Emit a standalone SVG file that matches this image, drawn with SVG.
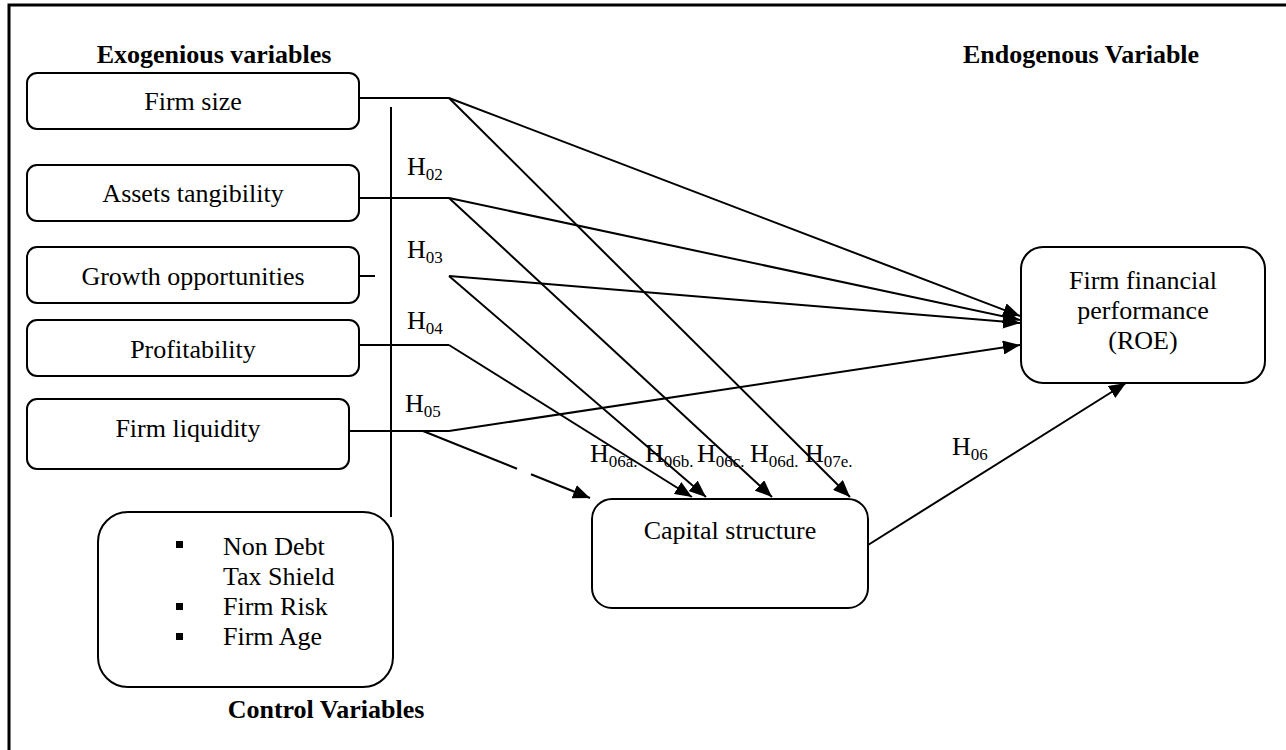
<svg xmlns="http://www.w3.org/2000/svg" width="1286" height="750" viewBox="0 0 1286 750">
<style>
text{font-family:"Liberation Serif","Times New Roman",serif;font-size:26px;fill:#000}
.b{font-weight:bold}
.m{text-anchor:middle}
.s{font-size:17px}
.box{fill:#fff;stroke:#000;stroke-width:2}
.ln{fill:none;stroke:#000;stroke-width:2}
.ar{fill:none;stroke:#000;stroke-width:2;marker-end:url(#ah)}
</style>
<defs>
<marker id="ah" markerUnits="userSpaceOnUse" markerWidth="18" markerHeight="14" refX="17" refY="7" orient="auto">
<path d="M0,0 L17,7 L0,14 z" fill="#000"/>
</marker>
</defs>
<rect width="1286" height="750" fill="#fff"/>
<path d="M9,750 V5 H1286" fill="none" stroke="#000" stroke-width="3"/>
<text class="b m" x="214" y="63">Exogenious variables</text>
<text class="b m" x="1081" y="63">Endogenous Variable</text>
<text class="b m" x="326" y="718">Control Variables</text>
<g id="connectors">
<path class="ln" d="M391,107 V517"/>
<path class="ln" d="M359,98 H449"/>
<path class="ar" d="M449,98 L1020,316"/>
<path class="ar" d="M449,98 L850,497"/>
<path class="ln" d="M359,198 H449"/>
<path class="ar" d="M449,198 L1020,320"/>
<path class="ar" d="M449,198 L772,497"/>
<path class="ln" d="M359,276 H375"/>
<path class="ar" d="M449,276 L1020,323"/>
<path class="ar" d="M449,276 L706,497"/>
<path class="ln" d="M359,345 H449"/>
<path class="ar" d="M449,345 L692,497"/>
<path class="ln" d="M349,431 H449"/>
<path class="ar" d="M449,431 L1020,345"/>
<path class="ln" d="M423,431 L517,468.7"/>
<path class="ar" d="M531,474.3 L590,498"/>
<path class="ar" d="M868,545 L1126,383"/>
</g>
<g id="labels">
<text x="407" y="175">H<tspan class="s" dy="5">02</tspan></text>
<text x="407" y="258">H<tspan class="s" dy="5">03</tspan></text>
<text x="407" y="329">H<tspan class="s" dy="5">04</tspan></text>
<text x="405" y="412">H<tspan class="s" dy="5">05</tspan></text>
<text x="590" y="462">H<tspan class="s" dy="5">06a.</tspan></text>
<text x="645" y="462">H<tspan class="s" dy="5">06b.</tspan></text>
<text x="697" y="462">H<tspan class="s" dy="5">06c.</tspan></text>
<text x="750" y="462">H<tspan class="s" dy="5">06d.</tspan></text>
<text x="805" y="462">H<tspan class="s" dy="5">07e.</tspan></text>
<text x="952" y="455">H<tspan class="s" dy="5">06</tspan></text>
</g>
<g id="firm-size">
<rect class="box" x="27" y="73" width="332" height="56" rx="10"/>
<text class="m" x="193" y="110">Firm size</text>
</g>
<g id="assets-tangibility">
<rect class="box" x="27" y="165" width="332" height="56" rx="10"/>
<text class="m" x="193" y="202">Assets tangibility</text>
</g>
<g id="growth-opportunities">
<rect class="box" x="27" y="247" width="332" height="56" rx="10"/>
<text class="m" x="193" y="285">Growth opportunities</text>
</g>
<g id="profitability">
<rect class="box" x="27" y="320" width="332" height="56" rx="10"/>
<text class="m" x="193" y="358">Profitability</text>
</g>
<g id="firm-liquidity">
<rect class="box" x="27" y="399" width="322" height="70" rx="10"/>
<text class="m" x="188" y="437">Firm liquidity</text>
</g>
<g id="control-variables">
<rect class="box" x="98" y="512" width="295" height="175" rx="30"/>
<rect x="176" y="541" width="7" height="7"/>
<rect x="176" y="603" width="7" height="7"/>
<rect x="176" y="633" width="7" height="7"/>
<text x="223" y="555">Non Debt</text>
<text x="223" y="585">Tax Shield</text>
<text x="223" y="615">Firm Risk</text>
<text x="223" y="645">Firm Age</text>
</g>
<g id="capital-structure">
<rect class="box" x="592" y="499" width="276" height="109" rx="20"/>
<text class="m" x="730" y="539">Capital structure</text>
</g>
<g id="firm-performance">
<rect class="box" x="1021" y="247" width="244" height="136" rx="22"/>
<text class="m" x="1143" y="289">Firm financial</text>
<text class="m" x="1143" y="319">performance</text>
<text class="m" x="1143" y="349">(ROE)</text>
</g>
</svg>
